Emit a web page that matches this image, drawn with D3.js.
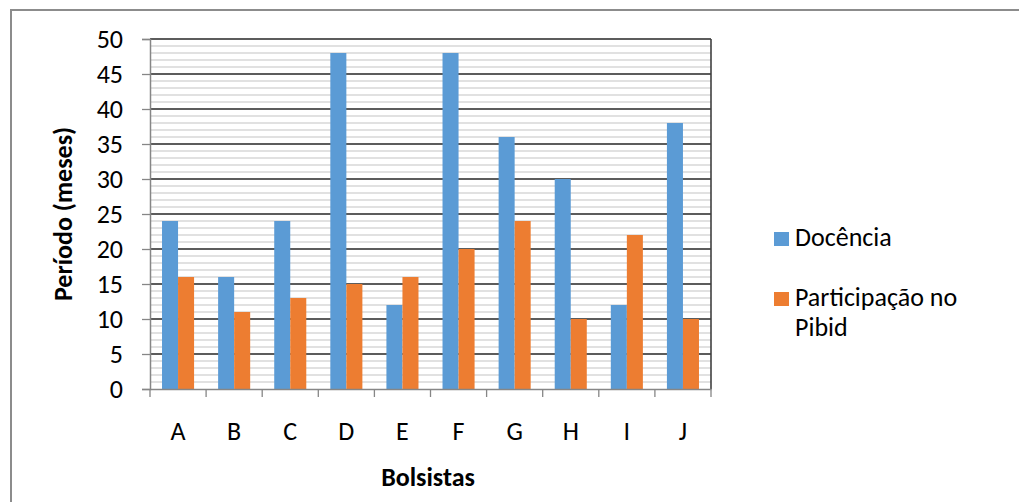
<!DOCTYPE html>
<html>
<head>
<meta charset="utf-8">
<script src="https://cdn.jsdelivr.net/npm/d3@7"></script>
<style>
  html, body { margin: 0; padding: 0; background: #fff; }
  svg { display: block; font-family: Calibri, Carlito, "Open Sans", sans-serif; }
</style>
</head>
<body>
<svg id="chart" width="1019" height="502"></svg>
<script>
const categories = ['A', 'B', 'C', 'D', 'E', 'F', 'G', 'H', 'I', 'J'];
const seriesNames = ['Docência', 'Participação no Pibid'];
const docencia = [24, 16, 24, 48, 12, 48, 36, 30, 12, 38];
const pibid = [16, 11, 13, 15, 16, 20, 24, 10, 22, 10];
const yTicks = [0, 5, 10, 15, 20, 25, 30, 35, 40, 45, 50];

const COLORS = ['#5B9BD5', '#ED7D31'];

const plot = { left: 150, right: 711, top: 39, bottom: 389 };
const FONT = '26px';

const svg = d3.select('#chart');

// outer chart frame (runs off the picture on right and bottom)
svg.append('rect')
  .attr('x', 11).attr('y', 10)
  .attr('width', 1100).attr('height', 600)
  .attr('fill', 'none')
  .attr('stroke', '#8c8c8c')
  .attr('stroke-width', 2);

const x0 = d3.scaleBand().domain(categories).range([plot.left, plot.right]).padding(0);
const x1 = d3.scaleBand().domain(seriesNames).range([0, x0.bandwidth()])
  .paddingInner(0).paddingOuter(0.75);
const y = d3.scaleLinear().domain([0, 50]).range([plot.bottom, plot.top]);

// minor gridlines
const minor = d3.range(0, 51, 1).filter(v => v % 5 !== 0);
svg.append('g').selectAll('line')
  .data(minor)
  .enter().append('line')
  .attr('x1', plot.left).attr('x2', plot.right)
  .attr('y1', d => y(d)).attr('y2', d => y(d))
  .attr('stroke', '#c4c4c4')
  .attr('stroke-width', 1.2);

// major gridlines
svg.append('g').selectAll('line')
  .data(yTicks.filter(v => v > 0))
  .enter().append('line')
  .attr('x1', plot.left).attr('x2', plot.right)
  .attr('y1', d => y(d)).attr('y2', d => y(d))
  .attr('stroke', '#262626')
  .attr('stroke-width', 1.3);

// right border of plot area
svg.append('line')
  .attr('x1', plot.right).attr('x2', plot.right)
  .attr('y1', plot.top).attr('y2', plot.bottom)
  .attr('stroke', '#404040')
  .attr('stroke-width', 1.6);

// bars
const groups = svg.append('g').selectAll('g')
  .data(categories)
  .enter().append('g')
  .attr('transform', d => `translate(${x0(d)},0)`);

groups.selectAll('rect')
  .data((d, i) => [
    { key: seriesNames[0], value: docencia[i] },
    { key: seriesNames[1], value: pibid[i] }
  ])
  .enter().append('rect')
  .attr('x', d => x1(d.key))
  .attr('width', x1.bandwidth())
  .attr('y', d => y(d.value))
  .attr('height', d => y(0) - y(d.value))
  .attr('fill', (d, i) => COLORS[i]);

// y axis
const yAxis = svg.append('g')
  .attr('transform', `translate(${plot.left},0)`)
  .call(d3.axisLeft(y).tickValues(yTicks).tickSize(8).tickPadding(19))
  .attr('font-family', null)
  .attr('font-size', null);
yAxis.select('.domain').attr('stroke', '#868686').attr('stroke-width', 1.5);
yAxis.selectAll('.tick line').attr('stroke', '#868686').attr('stroke-width', 1.3);
yAxis.selectAll('.tick text')
  .attr('fill', '#000')
  .attr('dy', '0.34em')
  .style('font-size', FONT);

// x axis: ticks at category boundaries
const xAxis = svg.append('g')
  .attr('transform', `translate(0,${plot.bottom})`)
  .call(d3.axisBottom(x0).tickSize(0))
  .attr('font-family', null)
  .attr('font-size', null);
xAxis.select('.domain').attr('stroke', '#868686').attr('stroke-width', 1.5);
xAxis.selectAll('.tick text')
  .attr('fill', '#000')
  .attr('y', 51)
  .attr('dy', 0)
  .style('font-size', FONT);
xAxis.selectAll('.bound')
  .data(d3.range(categories.length + 1))
  .enter().append('line')
  .attr('class', 'bound')
  .attr('x1', i => plot.left + i * x0.step())
  .attr('x2', i => plot.left + i * x0.step())
  .attr('y1', 0).attr('y2', 8)
  .attr('stroke', '#868686')
  .attr('stroke-width', 1.3);

// axis titles
svg.append('text')
  .attr('x', 428)
  .attr('y', 486)
  .attr('text-anchor', 'middle')
  .style('font-size', FONT)
  .style('font-weight', 'bold')
  .text('Bolsistas');

svg.append('text')
  .attr('transform', `translate(72,${(plot.top + plot.bottom) / 2}) rotate(-90)`)
  .attr('text-anchor', 'middle')
  .style('font-size', FONT)
  .style('font-weight', 'bold')
  .text('Período (meses)');

// legend
const legendItems = [
  { lines: ['Docência'], y: 232 },
  { lines: ['Participação no', 'Pibid'], y: 292 }
];
const legend = svg.append('g').attr('class', 'legend');
legend.selectAll('rect')
  .data(legendItems)
  .enter().append('rect')
  .attr('x', 774)
  .attr('y', d => d.y)
  .attr('width', 15)
  .attr('height', 14)
  .attr('fill', (d, i) => COLORS[i]);
legend.selectAll('text')
  .data(legendItems)
  .enter().append('text')
  .attr('x', 795)
  .attr('y', d => d.y + 14)
  .style('font-size', FONT)
  .each(function (d) {
    d3.select(this).selectAll('tspan')
      .data(d.lines)
      .enter().append('tspan')
      .attr('x', 795)
      .attr('dy', (l, j) => j === 0 ? 0 : 30)
      .text(l => l);
  });
</script>
</body>
</html>
